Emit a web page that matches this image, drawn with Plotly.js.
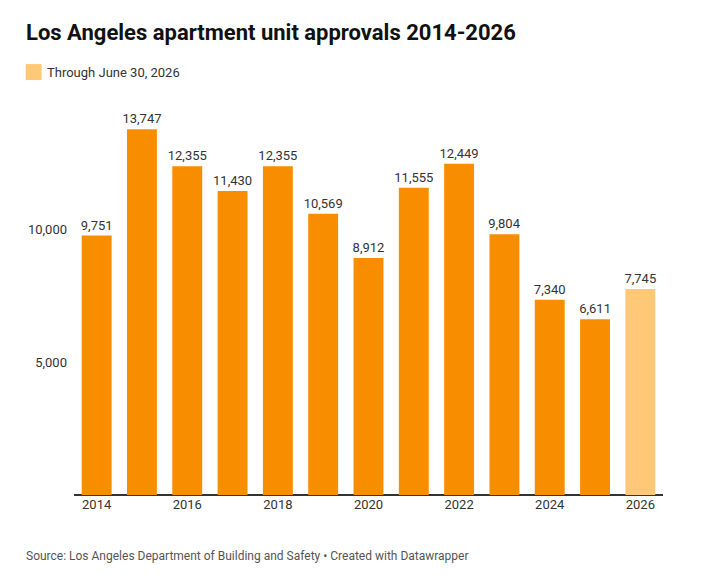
<html><head><script src="https://cdn.plot.ly/plotly-3.0.1.min.js"></script>
<style>body{margin:0;background:#fff}</style></head><body><div id="c" style="width:714px;height:580px"></div>
<script>
const years=[2014,2015,2016,2017,2018,2019,2020,2021,2022,2023,2024,2025,2026];
const approvals=[9751,13747,12355,11430,12355,10569,8912,11555,12449,9804,7340,6611,7745];
const tickYears=[2014,2016,2018,2020,2022,2024,2026];
const colors=years.map(y=>y===2026?'#FFC878':'#F98D00');
Plotly.newPlot('c',[{type:'bar',x:years,y:approvals,marker:{color:colors},width:0.66,
 text:approvals.map(v=>v.toLocaleString('en-US')),textposition:'outside',cliponaxis:false,constraintext:'none',
 textfont:{family:'Roboto',size:13,color:'#333'},hoverinfo:'none'}],
{width:714,height:580,margin:{l:74,r:51,t:96,b:85},paper_bgcolor:'#fff',plot_bgcolor:'#fff',
 font:{family:'Roboto',color:'#333'},showlegend:false,
 xaxis:{range:[2013.5,2026.5],tickvals:tickYears,ticks:'',showgrid:false,zeroline:false,showline:false,tickfont:{size:13,color:'#333'}},
 yaxis:{range:[0,15000],tickvals:[5000,10000],ticktext:['5,000','10,000'],showgrid:false,zeroline:true,zerolinecolor:'#333',zerolinewidth:1.5,showline:false,ticks:'',tickfont:{size:13,color:'#333'},ticklabelstandoff:6},
 annotations:[
  {xref:'paper',yref:'paper',x:-0.085,y:1.158,xanchor:'left',yanchor:'middle',showarrow:false,text:'<b>Los Angeles apartment unit approvals 2014-2026</b>',font:{size:22,color:'#111',family:'Roboto'}},
  {xref:'paper',yref:'paper',x:-0.05,y:1.06,xanchor:'left',yanchor:'middle',showarrow:false,text:'Through June 30, 2026',font:{size:13,color:'#333'}},
  {xref:'paper',yref:'paper',x:-0.085,y:-0.153,xanchor:'left',yanchor:'middle',showarrow:false,text:'Source: Los Angeles Department of Building and Safety • Created with Datawrapper',font:{size:12,color:'#555'}}
 ],
 shapes:[{type:'rect',xref:'paper',yref:'paper',x0:-0.082,x1:-0.055,y0:1.04,y1:1.08,fillcolor:'#FFC878',line:{width:0}}]
},{staticPlot:true});
</script></body></html>
